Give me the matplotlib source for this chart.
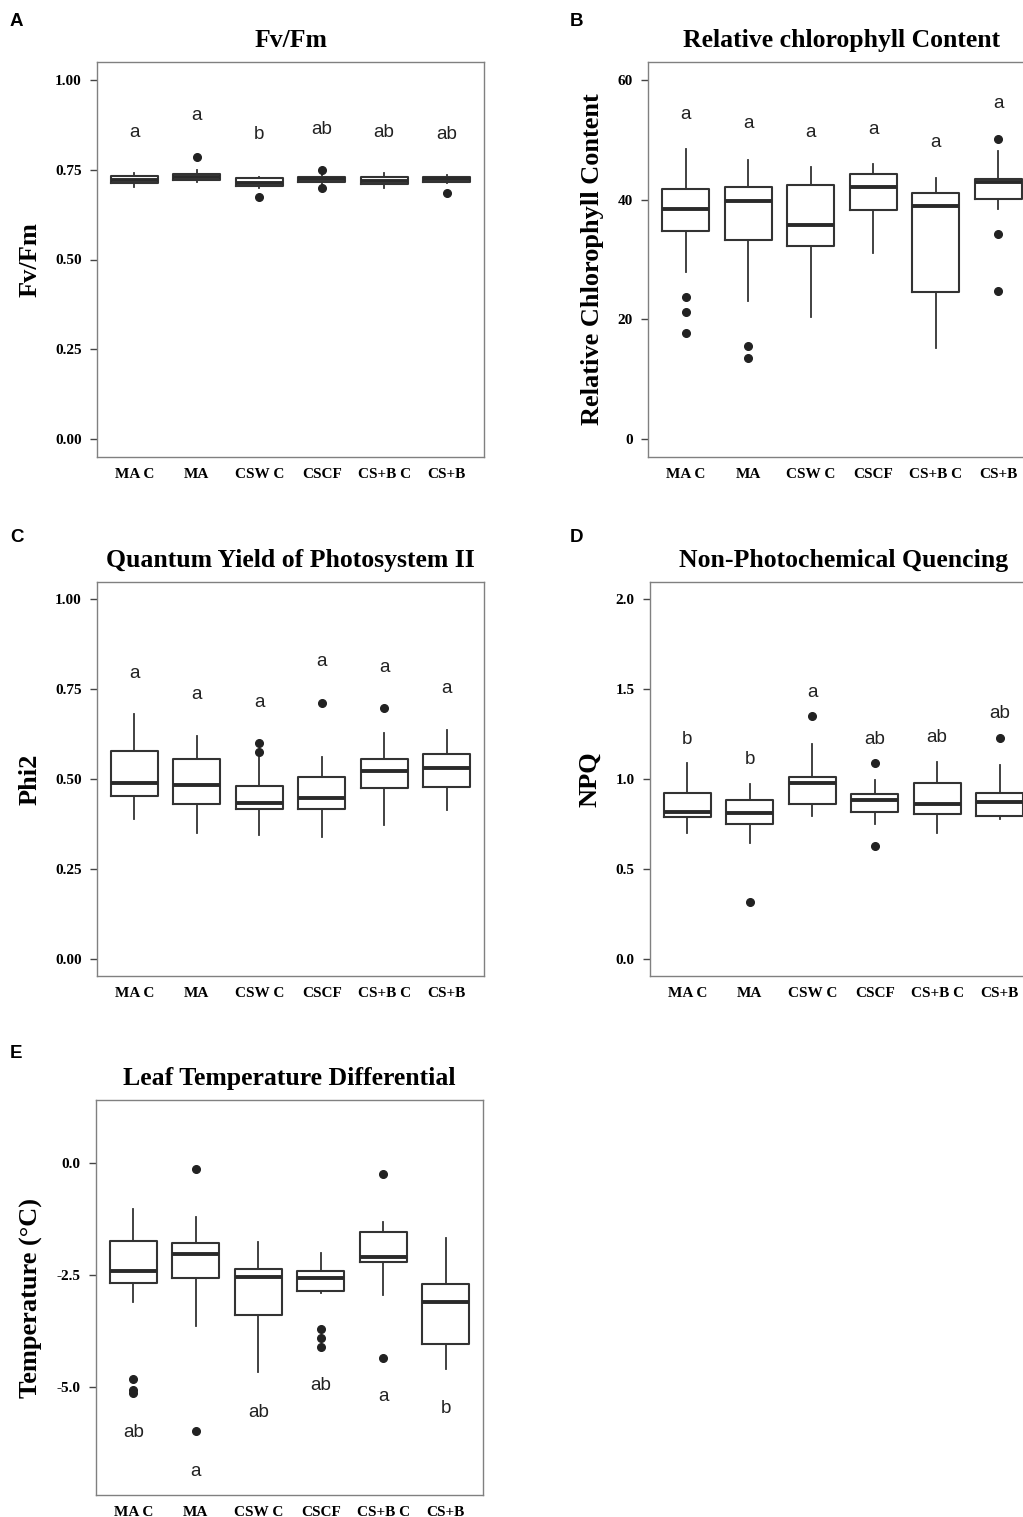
import matplotlib
matplotlib.use("Agg")
import matplotlib.pyplot as plt

plt.rcParams["axes.unicode_minus"] = False

GROUPS = ["MA C", "MA", "CSW C", "CSCF", "CS+B C", "CS+B"]

# Fv/Fm
fvfm_q1 = [0.714, 0.721, 0.706, 0.716, 0.710, 0.716]
fvfm_med = [0.721, 0.730, 0.712, 0.723, 0.720, 0.723]
fvfm_q3 = [0.733, 0.739, 0.726, 0.731, 0.731, 0.731]
fvfm_lo = [0.701, 0.717, 0.700, 0.708, 0.700, 0.712]
fvfm_hi = [0.740, 0.748, 0.730, 0.738, 0.740, 0.734]
fvfm_out = [[], [0.786], [0.675], [0.749, 0.700], [], [0.684]]
fvfm_let = ["a", "a", "b", "ab", "ab", "ab"]
fvfm_let_y = [0.853, 0.900, 0.848, 0.863, 0.855, 0.848]

# Relative chlorophyll content
chl_q1 = [34.8, 33.3, 32.2, 38.3, 24.5, 40.1]
chl_med = [38.4, 39.7, 35.8, 42.1, 38.9, 42.9]
chl_q3 = [41.7, 42.1, 42.5, 44.3, 41.1, 43.5]
chl_lo = [27.9, 23.0, 20.4, 31.1, 15.2, 38.4]
chl_hi = [48.4, 46.7, 45.4, 46.0, 43.7, 48.2]
chl_out = [[23.8, 21.2, 17.7], [15.5, 13.5], [], [], [], [50.1, 34.3, 24.7]]
chl_let = ["a", "a", "a", "a", "a", "a"]
chl_let_y = [54.3, 52.7, 51.3, 51.8, 49.6, 56.0]

# Phi2
phi_q1 = [0.453, 0.430, 0.416, 0.416, 0.476, 0.479]
phi_med = [0.490, 0.483, 0.434, 0.446, 0.523, 0.530]
phi_q3 = [0.578, 0.555, 0.481, 0.506, 0.555, 0.569]
phi_lo = [0.388, 0.349, 0.344, 0.340, 0.372, 0.414]
phi_hi = [0.680, 0.620, 0.560, 0.560, 0.627, 0.635]
phi_out = [[], [], [0.601, 0.576], [0.712], [0.697], []]
phi_let = ["a", "a", "a", "a", "a", "a"]
phi_let_y = [0.794, 0.736, 0.712, 0.827, 0.810, 0.750]

# NPQ
npq_q1 = [0.790, 0.750, 0.861, 0.814, 0.805, 0.796]
npq_med = [0.814, 0.809, 0.976, 0.883, 0.861, 0.870]
npq_q3 = [0.924, 0.883, 1.011, 0.916, 0.976, 0.924]
npq_lo = [0.701, 0.646, 0.794, 0.750, 0.701, 0.776]
npq_hi = [1.087, 0.972, 1.195, 0.994, 1.093, 1.078]
npq_out = [[], [0.317], [1.352], [1.087, 0.629], [], [1.230]]
npq_let = ["b", "b", "a", "ab", "ab", "ab"]
npq_let_y = [1.221, 1.106, 1.480, 1.222, 1.230, 1.365]

# Leaf temperature differential
tmp_q1 = [-2.686, -2.574, -3.390, -2.856, -2.203, -4.036]
tmp_med = [-2.404, -2.033, -2.537, -2.560, -2.107, -3.108]
tmp_q3 = [-1.736, -1.780, -2.367, -2.410, -1.536, -2.708]
tmp_lo = [-3.116, -3.630, -4.674, -2.900, -2.960, -4.600]
tmp_hi = [-1.031, -1.200, -1.766, -2.003, -1.313, -1.684]
tmp_out = [[-4.82, -5.06, -5.13], [-0.148, -5.99], [], [-3.71, -3.91, -4.11],
           [-0.252, -4.355], []]
tmp_let = ["ab", "a", "ab", "ab", "a", "b"]
tmp_let_y = [-6.02, -6.88, -5.58, -4.97, -5.22, -5.47]

SERIF = "Liberation Serif"
SANS = "Liberation Sans"
W, H = 1023, 1517


def px_axes(fig, left, top, right, bottom):
    return fig.add_axes([left / W, 1 - bottom / H, (right - left) / W, (bottom - top) / H])


def draw_panel(ax, q1, med, q3, lo, hi, out, letters, let_y, title, ylabel,
               ylim, yticks, yticklabels):
    stats = []
    for i in range(len(GROUPS)):
        stats.append({"q1": q1[i], "med": med[i], "q3": q3[i],
                      "whislo": lo[i], "whishi": hi[i], "fliers": out[i]})
    ax.bxp(stats, positions=range(1, 7), widths=0.75, showcaps=False,
           boxprops=dict(color="#333333", linewidth=1.5),
           medianprops=dict(color="#2a2a2a", linewidth=2.8),
           whiskerprops=dict(color="#333333", linewidth=1.3),
           flierprops=dict(marker="o", markersize=5.5, markerfacecolor="#222222",
                           markeredgecolor="#222222"))
    for i, (lab, y) in enumerate(zip(letters, let_y)):
        ax.text(i + 1, y, lab, ha="center", va="center", fontsize=13.5,
                family=SANS, color="#222222")
    ax.set_xlim(0.4, 6.6)
    ax.set_ylim(*ylim)
    ax.set_xticks(range(1, 7))
    ax.set_xticklabels(GROUPS, family=SERIF, fontweight="bold", fontsize=11)
    ax.set_yticks(yticks)
    ax.set_yticklabels(yticklabels, family=SERIF, fontweight="bold", fontsize=11)
    ax.tick_params(axis="x", length=0, pad=8)
    ax.tick_params(axis="y", length=5, width=1, color="#444444", pad=6)
    for sp in ax.spines.values():
        sp.set_color("#808080")
        sp.set_linewidth(1.0)
    ax.set_title(title, family=SERIF, fontweight="bold", fontsize=18.5, pad=11)
    ax.set_ylabel(ylabel, family=SERIF, fontweight="bold", fontsize=19, labelpad=10)


fig = plt.figure(figsize=(W / 100, H / 100), dpi=100)

ax_a = px_axes(fig, 97, 62, 484, 457)
draw_panel(ax_a, fvfm_q1, fvfm_med, fvfm_q3, fvfm_lo, fvfm_hi, fvfm_out,
           fvfm_let, fvfm_let_y, "Fv/Fm", "Fv/Fm", (-0.05, 1.05),
           [0, 0.25, 0.5, 0.75, 1.0], ["0.00", "0.25", "0.50", "0.75", "1.00"])

ax_b = px_axes(fig, 648, 62, 1036, 457)
draw_panel(ax_b, chl_q1, chl_med, chl_q3, chl_lo, chl_hi, chl_out,
           chl_let, chl_let_y, "Relative chlorophyll Content",
           "Relative Chlorophyll Content", (-3, 63),
           [0, 20, 40, 60], ["0", "20", "40", "60"])

ax_c = px_axes(fig, 97, 582, 484, 976)
draw_panel(ax_c, phi_q1, phi_med, phi_q3, phi_lo, phi_hi, phi_out,
           phi_let, phi_let_y, "Quantum Yield of Photosystem II", "Phi2",
           (-0.047, 1.047),
           [0, 0.25, 0.5, 0.75, 1.0], ["0.00", "0.25", "0.50", "0.75", "1.00"])

ax_d = px_axes(fig, 650, 582, 1037, 976)
draw_panel(ax_d, npq_q1, npq_med, npq_q3, npq_lo, npq_hi, npq_out,
           npq_let, npq_let_y, "Non-Photochemical Quencing", "NPQ",
           (-0.094, 2.094),
           [0, 0.5, 1.0, 1.5, 2.0], ["0.0", "0.5", "1.0", "1.5", "2.0"])

ax_e = px_axes(fig, 96, 1100, 483, 1495)
draw_panel(ax_e, tmp_q1, tmp_med, tmp_q3, tmp_lo, tmp_hi, tmp_out,
           tmp_let, tmp_let_y, "Leaf Temperature Differential",
           "Temperature (°C)", (-7.41, 1.4),
           [-5.0, -2.5, 0.0], ["-5.0", "-2.5", "0.0"])

for lab, x, y in [("A", 10, 22), ("B", 570, 22), ("C", 10, 537),
                  ("D", 570, 537), ("E", 10, 1054)]:
    fig.text(x / W, 1 - y / H, lab, family=SANS, fontweight="bold",
             fontsize=13.5, ha="left", va="center")

fig.savefig("out.png", dpi=100)
